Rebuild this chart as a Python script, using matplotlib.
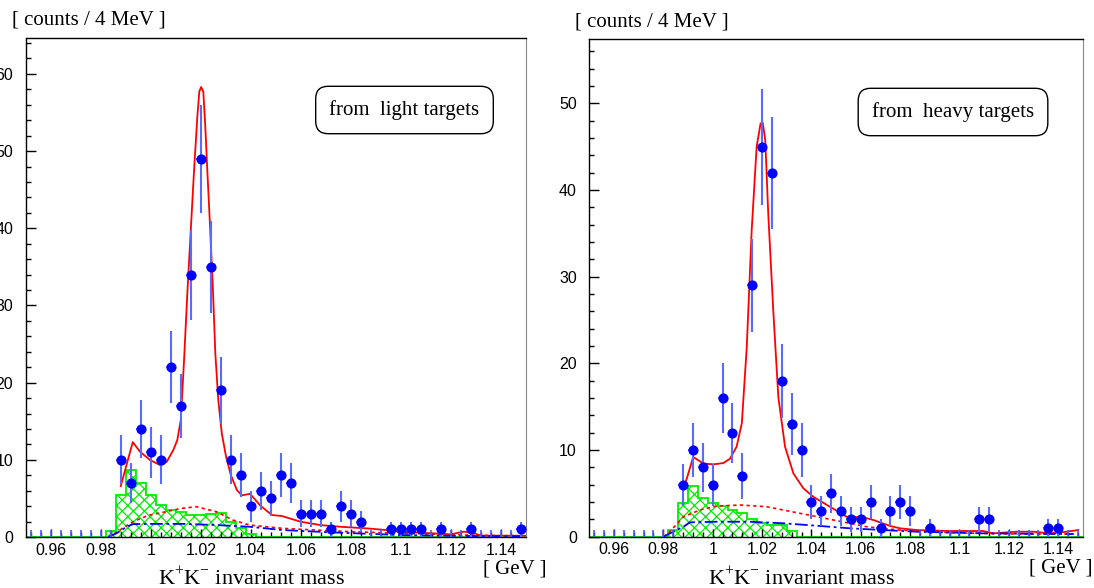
import matplotlib
matplotlib.use("Agg")
import matplotlib.pyplot as plt
import numpy as np

plt.rcParams['font.family'] = 'Liberation Sans'
plt.rcParams['mathtext.fontset'] = 'custom'
plt.rcParams['mathtext.rm'] = 'Liberation Serif'
plt.rcParams['hatch.linewidth'] = 0.9

#######################
# data (counts per 4 MeV bin)
xtick_values = [0.96, 0.98, 1.0, 1.02, 1.04, 1.06, 1.08, 1.10, 1.12, 1.14]
xtick_labels = ["0.96", "0.98", "1", "1.02", "1.04", "1.06", "1.08", "1.1", "1.12", "1.14"]

# light targets
light_mass = [0.988, 0.992, 0.996, 1.000, 1.004, 1.008, 1.012, 1.016, 1.020, 1.024,
              1.028, 1.032, 1.036, 1.040, 1.044, 1.048, 1.052, 1.056, 1.060, 1.064,
              1.068, 1.072, 1.076, 1.080, 1.084, 1.096, 1.100, 1.104, 1.108, 1.116,
              1.128, 1.148]
light_counts = [10, 7, 14, 11, 10, 22, 17, 34, 49, 35,
                19, 10, 8, 4, 6, 5, 8, 7, 3, 3,
                3, 1, 4, 3, 2, 1, 1, 1, 1, 1,
                1, 1]
light_fit_x = [0.9880, 0.9928, 0.9957, 0.9997, 1.0037, 1.0064, 1.0090, 1.0106, 1.0120, 1.0133,
               1.0146, 1.0160, 1.0173, 1.0186, 1.0194, 1.0201, 1.0210, 1.0218, 1.0226, 1.0237,
               1.0248, 1.0258, 1.0270, 1.0284, 1.0301, 1.0320, 1.0344, 1.0364, 1.0397, 1.0437,
               1.0484, 1.0524, 1.0597, 1.0677, 1.0757, 1.0863, 1.0943, 1.0997, 1.1130, 1.1197,
               1.1250, 1.1290, 1.1317, 1.1497]
light_fit_y = [6.6, 12.3, 11.05, 9.97, 9.33, 9.76, 11.27, 12.56, 15.15, 22.9,
               31.5, 39.8, 47.5, 54.4, 57.7, 58.3, 57.7, 53.1, 47.5, 40.2,
               32.4, 23.8, 17.7, 13.4, 10.4, 8.03, 6.1, 5.4, 5.6, 4.1,
               2.85, 2.72, 2.0, 1.55, 1.33, 1.12, 0.9, 0.69, 0.47, 0.34,
               0.69, 0.56, 0.17, 0.17]
light_dot_x = [0.983, 0.9857, 0.9929, 0.9990, 1.0063, 1.0120, 1.0182, 1.0262, 1.0328, 1.0395,
               1.0528, 1.0661, 1.0794, 1.0993, 1.1260, 1.1480]
light_dot_y = [0.0, 0.5, 2.0, 2.8, 3.3, 3.7, 3.93, 3.28, 2.2, 1.55,
               1.12, 0.9, 0.7, 0.48, 0.26, 0.13]
light_dash_x = [0.983, 0.9863, 0.9903, 0.9930, 1.0000, 1.0130, 1.0262, 1.0395, 1.0528, 1.0727,
                1.0993, 1.1260, 1.1480]
light_dash_y = [0.0, 0.48, 1.33, 1.68, 1.7, 1.7, 1.55, 1.33, 0.9, 0.6,
                0.26, 0.13, 0.1]
light_bg_start = 0.982
light_bg = [0.8, 5.44, 8.68, 7.04, 5.5, 4.15, 3.5, 3.28, 2.85, 2.8, 2.98, 3.07, 1.99, 1.12, 0.39]

# heavy targets
heavy_mass = [0.988, 0.992, 0.996, 1.000, 1.004, 1.008, 1.012, 1.016, 1.020, 1.024,
              1.028, 1.032, 1.036, 1.040, 1.044, 1.048, 1.052, 1.056, 1.060, 1.064,
              1.068, 1.072, 1.076, 1.080, 1.088, 1.108, 1.112, 1.136, 1.140]
heavy_counts = [6, 10, 8, 6, 16, 12, 7, 29, 45, 42,
                18, 13, 10, 4, 3, 5, 3, 2, 2, 4,
                1, 3, 4, 3, 1, 2, 2, 1, 1]
heavy_fit_x = [0.9881, 0.9921, 0.9962, 1.0002, 1.0043, 1.0070, 1.0097, 1.0118, 1.0138, 1.0158,
               1.0178, 1.0194, 1.0203, 1.0213, 1.0225, 1.0246, 1.0266, 1.0293, 1.0327, 1.0367,
               1.0408, 1.0475, 1.0543, 1.0610, 1.0651, 1.0718, 1.0759, 1.0827, 1.0961, 1.1096,
               1.1137, 1.1232, 1.1299, 1.1367, 1.1434, 1.1481]
heavy_fit_y = [5.4, 9.2, 8.45, 8.35, 8.5, 9.0, 10.4, 13.1, 21.9, 35.4,
               45.0, 47.7, 47.75, 45.75, 37.3, 25.8, 16.1, 10.4, 7.3, 5.6,
               4.6, 3.46, 2.3, 2.24, 1.93, 1.25, 0.97, 0.77, 0.66, 0.66,
               0.39, 0.58, 0.58, 0.39, 0.58, 0.77]
heavy_dot_x = [0.980, 0.9820, 0.9881, 0.9949, 1.0016, 1.0111, 1.0219, 1.0354, 1.0489, 1.0624,
               1.0759, 1.0961, 1.1232, 1.1475]
heavy_dot_y = [0.0, 0.39, 2.3, 3.1, 3.54, 3.66, 3.46, 2.7, 1.93, 1.15,
               0.77, 0.46, 0.31, 0.31]
heavy_dash_x = [0.980, 0.9827, 0.9881, 0.9908, 1.0016, 1.0151, 1.0286, 1.0421, 1.0556, 1.0691,
                1.0827, 1.1096, 1.1460]
heavy_dash_y = [0.0, 0.39, 1.15, 1.66, 1.73, 1.73, 1.55, 1.27, 0.97, 0.77,
                0.58, 0.39, 0.31]
heavy_bg_start = 0.982
heavy_bg = [0.77, 3.85, 5.85, 4.5, 3.85, 3.5, 3.1, 2.7, 2.0, 1.6, 1.35, 1.35, 0.7]
#######################

bin_width = 0.004
x_range = (0.95, 1.15)
serif = 'Liberation Serif'


def draw_panel(ax, mass, counts, fit_x, fit_y, dot_x, dot_y, dash_x, dash_y,
               bg_start, bg, ymax, ymajor):
    mass = np.array(mass)
    counts = np.array(counts, dtype=float)

    # green hatched background histogram over the full range (zero outside)
    edges = np.round(np.arange(x_range[0], x_range[1] + 1e-9, bin_width), 4)
    full_bg = np.zeros(len(edges) - 1)
    first = int(round((bg_start - x_range[0]) / bin_width))
    full_bg[first:first + len(bg)] = bg
    ax.fill_between(edges, np.append(full_bg, full_bg[-1]), step='post',
                    facecolor='none', edgecolor='#00ee00', hatch='xxx', linewidth=0, zorder=1)
    ax.stairs(full_bg, edges, color='#00ee00', linewidth=1.3, zorder=2)

    # fit curves
    ax.plot(fit_x, fit_y, color='red', linewidth=1.3, zorder=3)
    ax.plot(dot_x, dot_y, color='red', linewidth=1.2, linestyle=(0, (2, 2)), zorder=3)
    ax.plot(dash_x, dash_y, color='blue', linewidth=1.3, linestyle=(0, (7, 2, 1.5, 2)), zorder=3)

    # short blue marks at the empty bins
    centers = (edges[:-1] + edges[1:]) / 2
    empty = [c for c in centers if not np.any(np.isclose(mass, c))]
    ax.vlines(empty, 0, ymax * 0.014, color=(0.3, 0.35, 1.0), linewidth=1.2, zorder=3)

    # data with sqrt(N) errors
    ax.errorbar(mass, counts, yerr=np.sqrt(counts), xerr=bin_width / 2, fmt='o',
                color='blue', markersize=6.3, ecolor=(0.35, 0.42, 1.0),
                elinewidth=1.5, capsize=0, zorder=4)

    ax.set_xlim(*x_range)
    ax.set_ylim(0, ymax)
    ax.set_xticks(xtick_values, labels=xtick_labels)
    ax.set_xticks(np.arange(0.952, 1.149, bin_width), minor=True)
    ax.set_yticks(ymajor)
    ax.set_yticks(np.arange(0, ymax, 2), minor=True)
    ax.tick_params(axis='both', which='both', direction='in', top=False, right=False,
                   labelsize=11.5, width=1.0)
    ax.tick_params(axis='x', which='major', length=6, pad=4)
    ax.tick_params(axis='x', which='minor', length=3.5)
    ax.tick_params(axis='y', which='major', length=7, pad=9)
    ax.tick_params(axis='y', which='minor', length=3.5)
    for side in ['left', 'top', 'bottom']:
        ax.spines[side].set_linewidth(1.0)
    ax.spines['right'].set_color('#888888')


fig = plt.figure(figsize=(10.94, 5.88), dpi=100)
ax_light = fig.add_axes([0.0235, 0.0867, 0.4573, 0.848])
ax_heavy = fig.add_axes([0.5387, 0.0872, 0.4511, 0.8459])

draw_panel(ax_light, light_mass, light_counts, light_fit_x, light_fit_y,
           light_dot_x, light_dot_y, light_dash_x, light_dash_y,
           light_bg_start, light_bg, 64.6, [0, 10, 20, 30, 40, 50, 60])
draw_panel(ax_heavy, heavy_mass, heavy_counts, heavy_fit_x, heavy_fit_y,
           heavy_dot_x, heavy_dot_y, heavy_dash_x, heavy_dash_y,
           heavy_bg_start, heavy_bg, 57.4, [0, 10, 20, 30, 40, 50])

# boxed labels
box_style = dict(boxstyle='round,pad=0.66,rounding_size=0.6', facecolor='white',
                 edgecolor='black', linewidth=1.0)
fig.text(404.5 / 1094, 1 - 110 / 588, "from  light targets", fontsize=15, family=serif,
         ha='center', va='center', bbox=box_style)
fig.text(953 / 1094, 1 - 112 / 588, "from  heavy targets", fontsize=15, family=serif,
         ha='center', va='center', bbox=box_style)

# axis titles, placed like the original ROOT canvas
fig.text(12 / 1094, 1 - 20 / 588, "[ counts / 4 MeV ]", fontsize=15, family=serif, ha='left', va='center')
fig.text(575 / 1094, 1 - 22 / 588, "[ counts / 4 MeV ]", fontsize=15, family=serif, ha='left', va='center')
fig.text(252 / 1094, 1 - 578 / 588, "K$^{+}$K$^{-}$ invariant mass", fontsize=16, family=serif, ha='center', va='center')
fig.text(802 / 1094, 1 - 578 / 588, "K$^{+}$K$^{-}$ invariant mass", fontsize=16, family=serif, ha='center', va='center')
fig.text(515 / 1094, 1 - 569 / 588, "[ GeV ]", fontsize=15, family=serif, ha='center', va='center')
fig.text(1061 / 1094, 1 - 568 / 588, "[ GeV ]", fontsize=15, family=serif, ha='center', va='center')

fig.savefig("out.png", dpi=100)
